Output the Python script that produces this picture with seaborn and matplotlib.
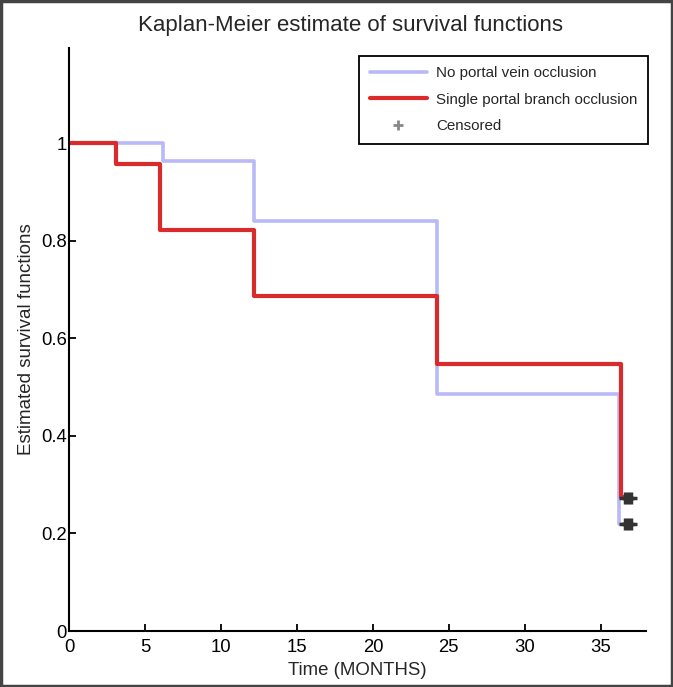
import pandas as pd
import numpy as np
import matplotlib.pyplot as plt
import seaborn as sns
from matplotlib.patches import Rectangle
from matplotlib.lines import Line2D

sns.set_style('ticks')
plt.rcParams['font.family'] = ['Liberation Sans', 'DejaVu Sans']

# step points (time in months, survival)
time_none = [0, 6.2, 12.2, 24.2, 36.2, 36.9]
surv_none = [1.0, 0.964, 0.84, 0.486, 0.22, 0.22]
time_single = [0, 3.1, 6.0, 12.2, 24.2, 36.3, 36.9]
surv_single = [1.0, 0.957, 0.823, 0.686, 0.547, 0.275, 0.275]

cens_time = [36.6, 36.8, 37.0, 36.6, 36.8, 37.0]
cens_surv = [0.22, 0.22, 0.22, 0.273, 0.273, 0.273]

groups = ['No portal vein occlusion', 'Single portal branch occlusion']
colors = ['#b9b9f7', '#d92b2b']
widths = [2.6, 3.0]

df = pd.DataFrame({
    'time': time_none + time_single,
    'surv': surv_none + surv_single,
    'group': [groups[0]] * len(time_none) + [groups[1]] * len(time_single),
})
cens = pd.DataFrame({'time': cens_time, 'surv': cens_surv})

fig = plt.figure(figsize=(6.73, 6.87), dpi=100)
ax = fig.add_axes([0.1025, 0.0815, 0.858, 0.8485])

for g, c, lw in zip(groups, colors, widths):
    sns.lineplot(data=df[df.group == g], x='time', y='surv', drawstyle='steps-post',
                 color=c, lw=lw, ax=ax, legend=False, estimator=None)
ax.plot(cens.time, cens.surv, ls='none', marker='+', ms=9, mew=2.5, color='#333333')

ax.set_xlim(0, 38)
ax.set_ylim(0, 1.195)
ax.set_xticks(range(0, 40, 5))
ax.set_yticks([0, 0.2, 0.4, 0.6, 0.8, 1.0])
ax.set_yticklabels(['0', '0.2', '0.4', '0.6', '0.8', '1'])
ax.tick_params(direction='in', length=5, width=1.3, labelsize=13.3, colors='black')
ax.tick_params(axis='y', pad=1.5)
ax.tick_params(axis='x', pad=6)
for s in ['left', 'bottom']:
    ax.spines[s].set_linewidth(1.5)
    ax.spines[s].set_color('black')
sns.despine(ax=ax)

ax.set_xlabel('Time (MONTHS)', fontsize=13.4, labelpad=4)
ax.set_ylabel('Estimated survival functions', fontsize=13.5, labelpad=4)
fig.text(351 / 673, 1 - 26 / 687, 'Kaplan-Meier estimate of survival functions',
         fontsize=16, ha='center', va='center')

handles = [Line2D([], [], color=colors[0], lw=widths[0]),
           Line2D([], [], color=colors[1], lw=widths[1]),
           Line2D([], [], ls='none', marker='+', ms=7, mew=2, color='#888888')]
leg = ax.legend(handles, groups + ['Censored'], loc='upper right', bbox_to_anchor=(1.016, 1.0),
                fontsize=10.9, fancybox=False, edgecolor='black', framealpha=1,
                borderpad=0.7, handlelength=3.8, handletextpad=0.6, labelspacing=0.82)
leg.get_frame().set_linewidth(1.3)

fig.patches.append(Rectangle((0.002, 0.002), 0.996, 0.996, transform=fig.transFigure,
                             fill=False, edgecolor='#444444', lw=2.5))

fig.savefig('out.png', dpi=100)
